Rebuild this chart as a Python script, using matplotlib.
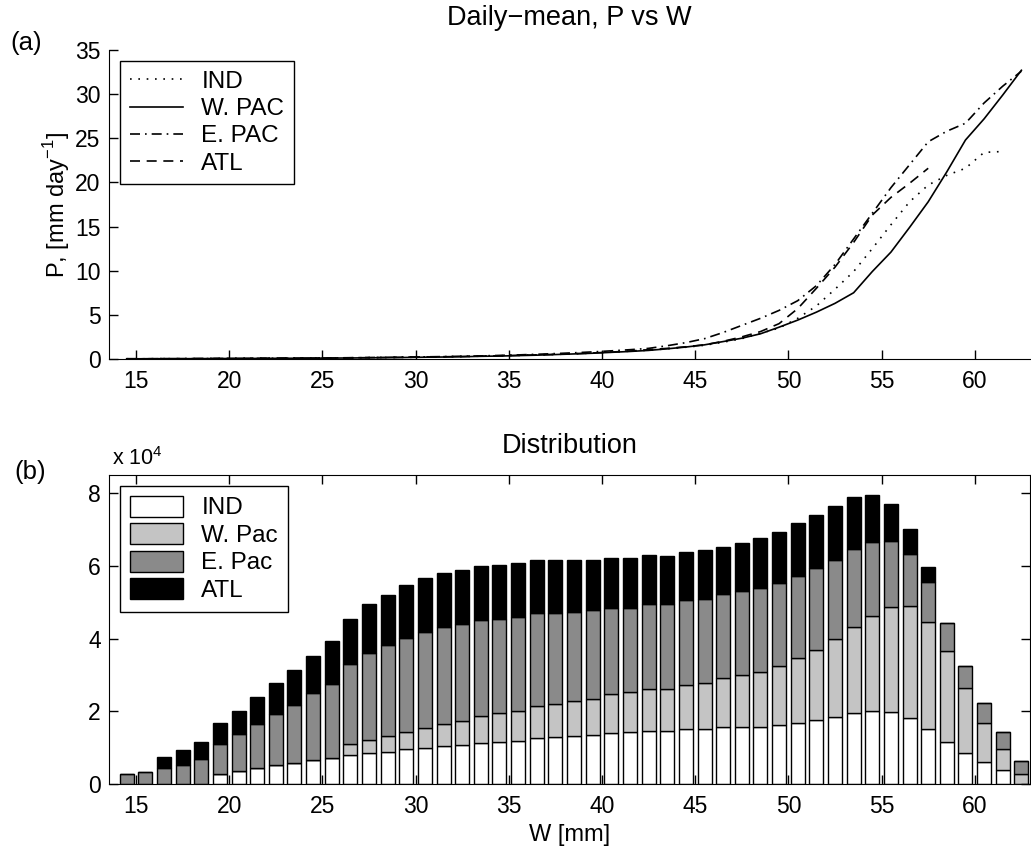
import numpy as np
import matplotlib
matplotlib.use('Agg')
import matplotlib.pyplot as plt

plt.rcParams['font.family'] = ['Liberation Sans', 'DejaVu Sans']
plt.rcParams['mathtext.fontset'] = 'custom'
plt.rcParams['mathtext.rm'] = 'Liberation Sans'
plt.rcParams['font.size'] = 16.5

# bin centres of precipitable water W [mm]
w_bins = np.arange(14.5, 63.0, 1.0)
nan = np.nan

# (a) daily-mean precipitation per W bin [mm/day]
p_ind = [0.02, 0.02, 0.03, 0.03, 0.04, 0.05, 0.06, 0.07, 0.08, 0.09,
         0.10, 0.11, 0.13, 0.15, 0.17, 0.19, 0.22, 0.25, 0.28, 0.32,
         0.36, 0.41, 0.46, 0.52, 0.59, 0.67, 0.77, 0.88, 1.00, 1.15,
         1.33, 1.55, 1.90, 2.30, 2.90, 3.50, 4.60, 6.00, 7.90, 9.90,
         12.5, 15.2, 17.8, 19.7, 20.8, 21.6, 23.4, 23.5, nan]
p_wpac = [0.02, 0.02, 0.03, 0.03, 0.04, 0.05, 0.05, 0.06, 0.07, 0.08,
          0.09, 0.10, 0.11, 0.13, 0.15, 0.17, 0.20, 0.22, 0.25, 0.30,
          0.33, 0.38, 0.43, 0.50, 0.57, 0.65, 0.75, 0.85, 0.97, 1.15,
          1.35, 1.60, 1.97, 2.35, 2.85, 3.60, 4.40, 5.30, 6.30, 7.50,
          9.9, 12.1, 14.9, 17.8, 21.2, 24.8, 27.2, 29.9, 32.7]
p_epac = [0.02, 0.02, 0.03, 0.03, 0.04, 0.05, 0.06, 0.07, 0.08, 0.09,
          0.10, 0.12, 0.14, 0.16, 0.18, 0.21, 0.24, 0.27, 0.31, 0.35,
          0.40, 0.46, 0.53, 0.61, 0.70, 0.80, 0.92, 1.05, 1.20, 1.50,
          1.85, 2.30, 3.00, 3.80, 4.60, 5.50, 6.60, 8.30, 10.7, 13.6,
          16.5, 19.4, 22.0, 24.6, 25.8, 26.7, 29.0, 30.9, 32.6]
p_atl = [0.02, 0.02, 0.03, 0.03, 0.04, 0.05, 0.06, 0.07, 0.08, 0.09,
         0.10, 0.11, 0.13, 0.15, 0.17, 0.19, 0.22, 0.25, 0.28, 0.32,
         0.36, 0.41, 0.46, 0.52, 0.59, 0.68, 0.78, 0.90, 1.05, 1.20,
         1.38, 1.60, 2.00, 2.50, 3.10, 4.00, 5.70, 8.00, 10.4, 13.2,
         16.3, 18.3, 19.9, 21.6, nan, nan, nan, nan, nan]

# (b) number of samples per W bin, units of 1e4
n_ind = [0, 0, 0, 0, 0, 0.28, 0.37, 0.45, 0.51, 0.57,
         0.65, 0.71, 0.81, 0.84, 0.89, 0.96, 0.98, 1.04, 1.06, 1.12,
         1.15, 1.19, 1.26, 1.28, 1.32, 1.35, 1.39, 1.42, 1.47, 1.46,
         1.52, 1.52, 1.56, 1.56, 1.57, 1.63, 1.68, 1.75, 1.84, 1.94,
         2.00, 1.99, 1.82, 1.52, 1.16, 0.84, 0.60, 0.38, 0.0]
n_wpac = [0, 0, 0, 0, 0, 0, 0, 0, 0, 0,
          0, 0, 0.28, 0.38, 0.42, 0.48, 0.55, 0.60, 0.67, 0.74,
          0.80, 0.82, 0.88, 0.92, 0.95, 0.99, 1.08, 1.10, 1.13, 1.16,
          1.21, 1.27, 1.36, 1.43, 1.52, 1.61, 1.79, 1.93, 2.14, 2.38,
          2.62, 2.88, 3.07, 2.94, 2.49, 1.81, 1.08, 0.58, 0.27]
n_epac = [0.27, 0.34, 0.43, 0.52, 0.68, 0.83, 1.00, 1.19, 1.41, 1.61,
          1.84, 2.05, 2.21, 2.39, 2.52, 2.58, 2.65, 2.68, 2.67, 2.65,
          2.60, 2.59, 2.57, 2.51, 2.46, 2.44, 2.38, 2.33, 2.36, 2.33,
          2.32, 2.31, 2.31, 2.31, 2.31, 2.30, 2.25, 2.25, 2.19, 2.14,
          2.05, 1.81, 1.45, 1.10, 0.79, 0.60, 0.54, 0.48, 0.36]
n_atl = [0, 0, 0.30, 0.41, 0.47, 0.57, 0.65, 0.75, 0.85, 0.96,
         1.04, 1.16, 1.23, 1.33, 1.36, 1.45, 1.49, 1.49, 1.50, 1.49,
         1.48, 1.49, 1.46, 1.46, 1.44, 1.37, 1.38, 1.37, 1.34, 1.31,
         1.32, 1.33, 1.29, 1.33, 1.37, 1.39, 1.45, 1.48, 1.49, 1.43,
         1.27, 1.03, 0.68, 0.41, 0, 0, 0, 0, 0]

fig = plt.figure(figsize=(10.31, 8.47), dpi=100)
ax1 = fig.add_axes([0.1057, 0.5762, 0.8933, 0.3648])
ax2 = fig.add_axes([0.1057, 0.0744, 0.8933, 0.3648])

# --- panel (a)
ax1.plot(w_bins, p_ind, color='k', lw=1.2, ls=(0, (1, 4)), label='IND')
ax1.plot(w_bins, p_wpac, color='k', lw=1.2, ls='-', label='W. PAC')
ax1.plot(w_bins, p_epac, color='k', lw=1.2, ls=(0, (6, 3, 1, 3)), label='E. PAC')
ax1.plot(w_bins, p_atl, color='k', lw=1.2, ls=(0, (6, 4)), label='ATL')
ax1.set_xlim(13.55, 62.96)
ax1.set_ylim(0, 35)
ax1.set_xticks(np.arange(15, 61, 5))
ax1.set_yticks(np.arange(0, 36, 5))
ax1.spines['top'].set_visible(False)
ax1.spines['right'].set_visible(False)
ax1.tick_params(direction='in', length=6.5, width=1, pad=6)
ax1.tick_params(axis='x', pad=8)
ax1.set_ylabel(r'P, [mm day$^{-1}$]', fontsize=17, labelpad=2)
ax1.set_title('Daily\u2212mean, P vs W', fontsize=19.5, pad=18)
leg1 = ax1.legend(loc='upper left', fontsize=17.5, handlelength=2.2,
                  handletextpad=0.75, labelspacing=0.22, borderaxespad=0.45,
                  fancybox=False, edgecolor='k', framealpha=1)
leg1.get_frame().set_linewidth(1)

# --- panel (b)
width = 0.75
bottom = np.zeros(len(w_bins))
for vals, col, lab in [(n_ind, 'white', 'IND'), (n_wpac, '#c4c4c4', 'W. Pac'),
                       (n_epac, '#8a8a8a', 'E. Pac'), (n_atl, 'black', 'ATL')]:
    vals = np.array(vals)
    ax2.bar(w_bins, vals, width=width, bottom=bottom, color=col,
            edgecolor='k', linewidth=1, label=lab)
    bottom += vals
ax2.set_xlim(13.55, 62.96)
ax2.set_ylim(0, 8.5)
ax2.set_xticks(np.arange(15, 61, 5))
ax2.set_yticks(np.arange(0, 9, 2))
ax2.tick_params(direction='in', length=6.5, width=1, pad=6,
                top=True, right=True)
ax2.tick_params(axis='x', pad=8)
ax2.set_xlabel('W [mm]', fontsize=17, labelpad=4)
ax2.set_title('Distribution', fontsize=19.5, pad=16)
ax2.text(0.003, 1.032, r'x 10$^4$', transform=ax2.transAxes,
         ha='left', va='baseline', fontsize=15.5)
leg2 = ax2.legend(loc='upper left', fontsize=17.5, handlelength=2.2,
                  handleheight=0.95, handletextpad=0.75, labelspacing=0.15,
                  borderaxespad=0.45, fancybox=False, edgecolor='k',
                  framealpha=1)
leg2.get_frame().set_linewidth(1)

fig.text(0.01, 0.941, '(a)', ha='left', va='baseline', fontsize=18.5)
fig.text(0.014, 0.434, '(b)', ha='left', va='baseline', fontsize=18.5)

fig.savefig('out.png', dpi=100)
